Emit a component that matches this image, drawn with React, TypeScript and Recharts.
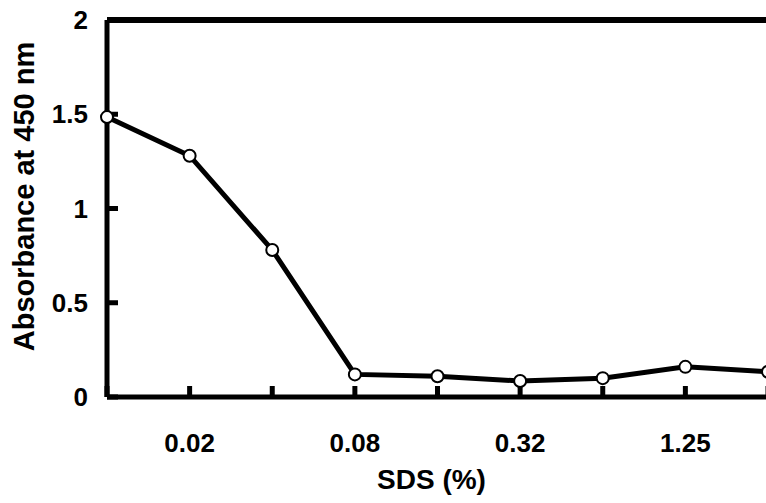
import React from "react";
import {
  LineChart,
  Line,
  XAxis,
  YAxis,
  ReferenceLine,
} from "recharts";

// SDS concentrations (%) — only every other one is labelled on the axis
const sdsLevels = ["0.01", "0.02", "0.04", "0.08", "0.16", "0.32", "0.64", "1.25", "2.5"];
const absorbance = [1.485, 1.28, 0.78, 0.12, 0.11, 0.085, 0.1, 0.16, 0.134];
const yTicks = [0, 0.5, 1, 1.5, 2];

const data = sdsLevels.map((sds, i) => ({ sds, abs: absorbance[i] }));

const FONT = "'Liberation Sans', Arial, sans-serif";

export default function App() {
  return (
    <div
      style={{
        position: "fixed",
        left: 0,
        top: 0,
        width: 766,
        height: 503,
        overflow: "hidden",
        background: "#fff",
      }}
    >
      <LineChart
        width={790}
        height={503}
        data={data}
        margin={{ top: 20, right: 22, bottom: 0, left: 0 }}
        style={{ fontFamily: FONT, fontWeight: 700 }}
      >
        <XAxis
          dataKey="sds"
          stroke="#000"
          strokeWidth={5}
          tickSize={-11}
          tickMargin={48}
          height={106}
          interval={0}
          tickFormatter={(v: string, i: number) => (i % 2 === 1 ? v : "")}
          tick={{ fill: "#000", fontSize: 26, fontWeight: 700, fontFamily: FONT }}
          tickLine={{ stroke: "#000", strokeWidth: 5 }}
          label={{
            value: "SDS (%)",
            position: "insideBottom",
            offset: 14,
            dx: -6,
            fill: "#000",
            fontSize: 28,
            fontWeight: 700,
            fontFamily: FONT,
          }}
        />
        <YAxis
          domain={[0, 2]}
          ticks={yTicks}
          width={107}
          stroke="#000"
          strokeWidth={5}
          tickSize={-11}
          tickMargin={30}
          tick={{ fill: "#000", fontSize: 26, fontWeight: 700, fontFamily: FONT }}
          tickLine={{ stroke: "#000", strokeWidth: 5 }}
          label={{
            value: "Absorbance at 450 nm",
            angle: -90,
            position: "insideLeft",
            offset: 24,
            dy: -12,
            style: { textAnchor: "middle" },
            fill: "#000",
            fontSize: 29,
            fontWeight: 700,
            fontFamily: FONT,
          }}
        />
        <ReferenceLine y={2} stroke="#000" strokeWidth={6} ifOverflow="visible" />
        <Line
          type="linear"
          dataKey="abs"
          stroke="#000"
          strokeWidth={5}
          dot={{ r: 6, fill: "#fff", stroke: "#000", strokeWidth: 2 }}
          activeDot={false}
          isAnimationActive={false}
        />
      </LineChart>
    </div>
  );
}
